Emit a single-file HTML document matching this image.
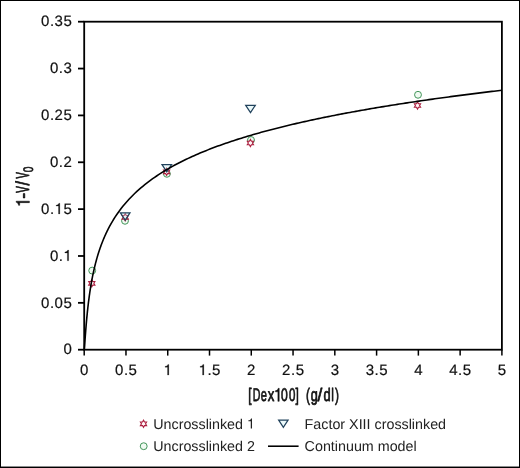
<!DOCTYPE html>
<html><head><meta charset="utf-8"><style>
html,body{margin:0;padding:0;background:#fff;}
svg{display:block;will-change:transform;}
text{font-family:"Liberation Sans",sans-serif;fill:#111;text-rendering:geometricPrecision;}
.tl{font-size:15.0px;stroke:#111;stroke-width:0.2px;}
.at{font-size:18.7px;stroke:#111;stroke-width:0.85px;stroke-linejoin:round;}
.at3{font-size:13.8px;stroke:#111;stroke-width:0.6px;stroke-linejoin:round;}
.at2{font-size:18.3px;stroke:#111;stroke-width:0.75px;stroke-linejoin:round;}
.lg{font-size:14.3px;fill:#222;}
</style></head><body>
<svg width="520" height="468" viewBox="0 0 520 468">
<rect x="0.5" y="0.5" width="519" height="467" fill="#fff" stroke="#000" stroke-width="1"/>
<rect x="0" y="466.55" width="520" height="0.5" fill="#000"/>
<rect x="84.2" y="21.7" width="417.70" height="328.00" fill="none" stroke="#000" stroke-width="1.8"/>
<line x1="78" y1="349.70" x2="84.2" y2="349.70" stroke="#000" stroke-width="1.8"/>
<line x1="78" y1="302.84" x2="84.2" y2="302.84" stroke="#000" stroke-width="1.8"/>
<line x1="78" y1="255.99" x2="84.2" y2="255.99" stroke="#000" stroke-width="1.8"/>
<line x1="78" y1="209.13" x2="84.2" y2="209.13" stroke="#000" stroke-width="1.8"/>
<line x1="78" y1="162.27" x2="84.2" y2="162.27" stroke="#000" stroke-width="1.8"/>
<line x1="78" y1="115.41" x2="84.2" y2="115.41" stroke="#000" stroke-width="1.8"/>
<line x1="78" y1="68.56" x2="84.2" y2="68.56" stroke="#000" stroke-width="1.8"/>
<line x1="78" y1="21.70" x2="84.2" y2="21.70" stroke="#000" stroke-width="1.8"/>
<line x1="84.20" y1="349.7" x2="84.20" y2="355.6" stroke="#000" stroke-width="1.5"/>
<line x1="125.97" y1="349.7" x2="125.97" y2="355.6" stroke="#000" stroke-width="1.5"/>
<line x1="167.74" y1="349.7" x2="167.74" y2="355.6" stroke="#000" stroke-width="1.5"/>
<line x1="209.51" y1="349.7" x2="209.51" y2="355.6" stroke="#000" stroke-width="1.5"/>
<line x1="251.28" y1="349.7" x2="251.28" y2="355.6" stroke="#000" stroke-width="1.5"/>
<line x1="293.05" y1="349.7" x2="293.05" y2="355.6" stroke="#000" stroke-width="1.5"/>
<line x1="334.82" y1="349.7" x2="334.82" y2="355.6" stroke="#000" stroke-width="1.5"/>
<line x1="376.59" y1="349.7" x2="376.59" y2="355.6" stroke="#000" stroke-width="1.5"/>
<line x1="418.36" y1="349.7" x2="418.36" y2="355.6" stroke="#000" stroke-width="1.5"/>
<line x1="460.13" y1="349.7" x2="460.13" y2="355.6" stroke="#000" stroke-width="1.5"/>
<line x1="501.90" y1="349.7" x2="501.90" y2="355.6" stroke="#000" stroke-width="1.5"/>
<text class="tl" x="63.39" y="354.46">0</text>
<text class="tl" x="41.04" y="307.60">0</text>
<text class="tl" x="49.88" y="307.60">.</text>
<text class="tl" x="54.55" y="307.60">0</text>
<text class="tl" x="63.39" y="307.60">5</text>
<text class="tl" x="49.88" y="260.75">0</text>
<text class="tl" x="58.72" y="260.75">.</text>
<path d="M0.352 0 L0.352 -0.709 L0.287 -0.709 C0.268 -0.640 0.215 -0.588 0.100 -0.580 L0.100 -0.520 L0.264 -0.520 L0.264 0 Z" transform="translate(63.39,260.75) scale(15.000,15.000)" fill="#111" stroke="#111" stroke-width="0.2" vector-effect="non-scaling-stroke"/>
<text class="tl" x="41.04" y="213.89">0</text>
<text class="tl" x="49.88" y="213.89">.</text>
<path d="M0.352 0 L0.352 -0.709 L0.287 -0.709 C0.268 -0.640 0.215 -0.588 0.100 -0.580 L0.100 -0.520 L0.264 -0.520 L0.264 0 Z" transform="translate(54.55,213.89) scale(15.000,15.000)" fill="#111" stroke="#111" stroke-width="0.2" vector-effect="non-scaling-stroke"/>
<text class="tl" x="63.39" y="213.89">5</text>
<text class="tl" x="49.88" y="167.03">0</text>
<text class="tl" x="58.72" y="167.03">.</text>
<text class="tl" x="63.39" y="167.03">2</text>
<text class="tl" x="41.04" y="120.17">0</text>
<text class="tl" x="49.88" y="120.17">.</text>
<text class="tl" x="54.55" y="120.17">2</text>
<text class="tl" x="63.39" y="120.17">5</text>
<text class="tl" x="49.88" y="73.32">0</text>
<text class="tl" x="58.72" y="73.32">.</text>
<text class="tl" x="63.39" y="73.32">3</text>
<text class="tl" x="41.04" y="26.46">0</text>
<text class="tl" x="49.88" y="26.46">.</text>
<text class="tl" x="54.55" y="26.46">3</text>
<text class="tl" x="63.39" y="26.46">5</text>
<text class="tl" x="80.03" y="375.06">0</text>
<text class="tl" x="115.04" y="375.06">0</text>
<text class="tl" x="123.89" y="375.06">.</text>
<text class="tl" x="128.55" y="375.06">5</text>
<path d="M0.352 0 L0.352 -0.709 L0.287 -0.709 C0.268 -0.640 0.215 -0.588 0.100 -0.580 L0.100 -0.520 L0.264 -0.520 L0.264 0 Z" transform="translate(163.57,375.06) scale(15.000,15.000)" fill="#111" stroke="#111" stroke-width="0.2" vector-effect="non-scaling-stroke"/>
<path d="M0.352 0 L0.352 -0.709 L0.287 -0.709 C0.268 -0.640 0.215 -0.588 0.100 -0.580 L0.100 -0.520 L0.264 -0.520 L0.264 0 Z" transform="translate(198.58,375.06) scale(15.000,15.000)" fill="#111" stroke="#111" stroke-width="0.2" vector-effect="non-scaling-stroke"/>
<text class="tl" x="207.43" y="375.06">.</text>
<text class="tl" x="212.09" y="375.06">5</text>
<text class="tl" x="247.11" y="375.06">2</text>
<text class="tl" x="282.12" y="375.06">2</text>
<text class="tl" x="290.97" y="375.06">.</text>
<text class="tl" x="295.63" y="375.06">5</text>
<text class="tl" x="330.65" y="375.06">3</text>
<text class="tl" x="365.66" y="375.06">3</text>
<text class="tl" x="374.51" y="375.06">.</text>
<text class="tl" x="379.17" y="375.06">5</text>
<text class="tl" x="414.19" y="375.06">4</text>
<text class="tl" x="449.20" y="375.06">4</text>
<text class="tl" x="458.05" y="375.06">.</text>
<text class="tl" x="462.71" y="375.06">5</text>
<text class="tl" x="497.73" y="375.06">5</text>
<circle cx="92.20" cy="270.60" r="3.45" fill="#f0faf2" stroke="#43965a" stroke-width="1.0"/>
<circle cx="125.00" cy="220.80" r="3.45" fill="#f0faf2" stroke="#43965a" stroke-width="1.0"/>
<circle cx="166.90" cy="173.80" r="3.45" fill="#f0faf2" stroke="#43965a" stroke-width="1.0"/>
<circle cx="251.00" cy="140.00" r="3.45" fill="#f0faf2" stroke="#43965a" stroke-width="1.0"/>
<circle cx="418.00" cy="94.80" r="3.45" fill="#f0faf2" stroke="#43965a" stroke-width="1.0"/>
<polygon points="91.80,279.75 90.78,281.53 88.73,281.53 89.75,283.30 88.73,285.07 90.78,285.07 91.80,286.85 92.82,285.07 94.87,285.07 93.85,283.30 94.87,281.53 92.82,281.53" fill="#fff4f6" stroke="#ab1e3e" stroke-width="1.15"/>
<polygon points="125.20,213.75 124.18,215.53 122.13,215.53 123.15,217.30 122.13,219.08 124.18,219.08 125.20,220.85 126.22,219.08 128.27,219.08 127.25,217.30 128.27,215.53 126.22,215.53" fill="#fff4f6" stroke="#ab1e3e" stroke-width="1.15"/>
<polygon points="166.60,168.25 165.58,170.03 163.53,170.03 164.55,171.80 163.53,173.58 165.58,173.58 166.60,175.35 167.62,173.58 169.67,173.58 168.65,171.80 169.67,170.03 167.62,170.03" fill="#fff4f6" stroke="#ab1e3e" stroke-width="1.15"/>
<polygon points="250.40,139.45 249.38,141.22 247.33,141.22 248.35,143.00 247.33,144.78 249.38,144.78 250.40,146.55 251.42,144.78 253.47,144.78 252.45,143.00 253.47,141.22 251.42,141.22" fill="#fff4f6" stroke="#ab1e3e" stroke-width="1.15"/>
<polygon points="417.50,101.95 416.48,103.72 414.43,103.72 415.45,105.50 414.43,107.28 416.48,107.28 417.50,109.05 418.52,107.28 420.57,107.28 419.55,105.50 420.57,103.72 418.52,103.72" fill="#fff4f6" stroke="#ab1e3e" stroke-width="1.15"/>
<polygon points="120.40,212.80 130.00,212.80 125.20,220.20" fill="#bfeef2" fill-opacity="0.3" stroke="#21425c" stroke-width="1.25"/>
<polygon points="162.00,164.50 171.60,164.50 166.80,171.90" fill="#bfeef2" fill-opacity="0.3" stroke="#21425c" stroke-width="1.25"/>
<polygon points="245.70,105.30 255.30,105.30 250.50,112.70" fill="#bfeef2" fill-opacity="0.3" stroke="#21425c" stroke-width="1.25"/>
<polyline points="84.20,349.70 84.24,349.44 84.29,349.08 84.33,348.66 84.37,348.21 84.41,347.73 84.46,347.23 84.50,346.71 84.54,346.18 84.59,345.63 84.63,345.08 84.67,344.52 84.71,343.95 84.76,343.38 84.80,342.80 84.84,342.22 84.89,341.64 84.93,341.06 84.97,340.48 85.01,339.89 85.06,339.31 85.10,338.73 85.14,338.15 85.19,337.57 85.23,336.99 85.27,336.41 85.31,335.84 85.36,335.26 85.40,334.69 85.44,334.13 85.49,333.56 85.53,333.00 85.57,332.44 85.61,331.89 85.66,331.34 85.70,330.79 85.74,330.25 85.79,329.70 85.83,329.17 85.87,328.63 85.87,328.63 86.07,326.23 86.26,323.90 86.46,321.64 86.66,319.46 86.85,317.35 87.05,315.31 87.25,313.34 87.44,311.43 87.64,309.58 87.84,307.78 88.03,306.04 88.23,304.36 88.43,302.72 88.62,301.13 88.82,299.58 89.02,298.08 89.21,296.61 89.41,295.19 89.61,293.80 89.80,292.44 90.00,291.12 90.20,289.83 90.39,288.58 90.59,287.35 90.78,286.15 90.98,284.97 91.18,283.82 91.37,282.70 91.57,281.60 91.77,280.52 91.96,279.47 92.16,278.43 92.36,277.42 92.55,276.42 92.75,275.45 92.95,274.49 93.14,273.55 93.34,272.63 93.54,271.72 93.73,270.83 93.93,269.95 94.13,269.09 94.32,268.24 94.52,267.41 94.72,266.59 94.91,265.78 95.11,264.99 95.31,264.20 95.50,263.43 95.70,262.67 95.90,261.93 96.09,261.19 96.29,260.46 96.49,259.75 96.68,259.04 96.88,258.35 97.07,257.66 97.27,256.98 97.47,256.31 97.66,255.65 97.86,255.00 98.06,254.36 98.25,253.72 98.45,253.09 98.65,252.48 98.84,251.86 99.04,251.26 99.24,250.66 99.43,250.07 99.63,249.49 99.83,248.91 100.02,248.34 100.22,247.78 100.42,247.22 100.61,246.67 100.81,246.12 101.01,245.58 101.20,245.05 101.40,244.52 101.60,244.00 101.79,243.48 101.99,242.97 102.19,242.46 102.38,241.96 102.58,241.46 102.78,240.97 102.97,240.48 103.17,240.00 103.37,239.52 103.56,239.05 103.76,238.58 103.95,238.11 104.15,237.65 104.35,237.20 104.54,236.75 104.74,236.30 104.94,235.85 105.13,235.41 105.33,234.98 105.53,234.55 105.72,234.12 105.92,233.69 106.12,233.27 106.31,232.85 106.51,232.44 106.71,232.03 106.90,231.62 107.10,231.22 107.30,230.81 107.49,230.42 107.69,230.02 107.89,229.63 108.08,229.24 108.28,228.86 108.48,228.47 108.67,228.09 108.87,227.72 109.07,227.34 109.26,226.97 111.24,223.39 113.21,220.05 115.18,216.92 117.15,213.98 119.13,211.20 121.10,208.57 123.07,206.07 125.05,203.70 127.02,201.43 128.99,199.26 130.97,197.18 132.94,195.19 134.91,193.27 136.88,191.42 138.86,189.65 140.83,187.93 142.80,186.27 144.78,184.66 146.75,183.11 148.72,181.60 150.70,180.14 152.67,178.72 154.64,177.34 156.62,176.00 158.59,174.69 160.56,173.41 162.53,172.17 164.51,170.96 166.48,169.78 168.45,168.63 170.43,167.50 172.40,166.40 174.37,165.32 176.35,164.26 178.32,163.23 180.29,162.22 182.27,161.22 184.24,160.25 186.21,159.30 188.18,158.36 190.16,157.45 192.13,156.55 194.10,155.66 196.08,154.79 198.05,153.94 200.02,153.10 202.00,152.27 203.97,151.46 205.94,150.66 207.91,149.88 209.89,149.10 211.86,148.34 213.83,147.59 215.81,146.85 217.78,146.12 219.75,145.41 221.73,144.70 223.70,144.00 225.67,143.32 227.65,142.64 229.62,141.97 231.59,141.31 233.56,140.66 235.54,140.02 237.51,139.38 239.48,138.76 241.46,138.14 243.43,137.53 245.40,136.93 247.38,136.33 249.35,135.74 251.32,135.16 253.30,134.59 255.27,134.02 257.24,133.46 259.21,132.90 261.19,132.35 263.16,131.81 265.13,131.27 267.11,130.74 269.08,130.21 271.05,129.69 273.03,129.18 275.00,128.67 276.97,128.17 278.94,127.67 280.92,127.17 282.89,126.68 284.86,126.20 286.84,125.72 288.81,125.24 290.78,124.77 292.76,124.31 294.73,123.85 296.70,123.39 298.68,122.94 300.65,122.49 302.62,122.04 304.59,121.60 306.57,121.16 308.54,120.73 310.51,120.30 312.49,119.88 314.46,119.45 316.43,119.04 318.41,118.62 320.38,118.21 322.35,117.80 324.33,117.40 326.30,117.00 328.27,116.60 330.24,116.20 332.22,115.81 334.19,115.42 336.16,115.04 338.14,114.65 340.11,114.28 342.08,113.90 344.06,113.52 346.03,113.15 348.00,112.79 349.97,112.42 351.95,112.06 353.92,111.70 355.89,111.34 357.87,110.98 359.84,110.63 361.81,110.28 363.79,109.93 365.76,109.59 367.73,109.25 369.71,108.91 371.68,108.57 373.65,108.23 375.62,107.90 377.60,107.57 379.57,107.24 381.54,106.91 383.52,106.59 385.49,106.27 387.46,105.95 389.44,105.63 391.41,105.31 393.38,105.00 395.36,104.69 397.33,104.37 399.30,104.07 401.27,103.76 403.25,103.46 405.22,103.15 407.19,102.85 409.17,102.55 411.14,102.26 413.11,101.96 415.09,101.67 417.06,101.38 419.03,101.09 421.00,100.80 422.98,100.51 424.95,100.23 426.92,99.94 428.90,99.66 430.87,99.38 432.84,99.10 434.82,98.83 436.79,98.55 438.76,98.28 440.74,98.00 442.71,97.73 444.68,97.46 446.65,97.20 448.63,96.93 450.60,96.66 452.57,96.40 454.55,96.14 456.52,95.88 458.49,95.62 460.47,95.36 462.44,95.10 464.41,94.85 466.39,94.59 468.36,94.34 470.33,94.09 472.30,93.84 474.28,93.59 476.25,93.34 478.22,93.10 480.20,92.85 482.17,92.61 484.14,92.36 486.12,92.12 488.09,91.88 490.06,91.64 492.03,91.40 494.01,91.17 495.98,90.93 497.95,90.70 499.93,90.46 501.90,90.23" fill="none" stroke="#000" stroke-width="1.6" stroke-linejoin="round"/>
<path d="M0.352 0 L0.352 -0.709 L0.287 -0.709 C0.268 -0.640 0.215 -0.588 0.100 -0.580 L0.100 -0.520 L0.264 -0.520 L0.264 0 Z" transform="translate(29.40,206.93) rotate(-90) scale(16.270,18.700)" fill="#111" stroke="#111" stroke-width="0.5" vector-effect="non-scaling-stroke"/>
<text class="at" transform="translate(29.40,198.55) rotate(-90) scale(0.898,1)">-</text>
<text class="at" transform="translate(29.40,192.74) rotate(-90) scale(0.528,1)">V</text>
<text class="at" transform="translate(29.40,185.40) rotate(-90) scale(0.847,1)">/</text>
<text class="at" transform="translate(29.40,178.54) rotate(-90) scale(0.504,1)">V</text>
<text class="at3" transform="translate(33.45,172.20) rotate(-90) scale(0.743,1)">0</text>
<text class="at2" transform="translate(248.22,401.30) scale(0.650,1)">[</text>
<text class="at2" transform="translate(252.73,401.30) scale(0.581,1)">D</text>
<text class="at2" transform="translate(260.83,401.30) scale(0.606,1)">e</text>
<text class="at2" transform="translate(267.65,401.30) scale(0.720,1)">x</text>
<path d="M0.352 0 L0.352 -0.709 L0.287 -0.709 C0.268 -0.640 0.215 -0.588 0.100 -0.580 L0.100 -0.520 L0.264 -0.520 L0.264 0 Z" transform="translate(274.03,401.30) scale(14.683,18.300)" fill="#111" stroke="#111" stroke-width="0.5" vector-effect="non-scaling-stroke"/>
<text class="at2" transform="translate(280.93,401.30) scale(0.663,1)">0</text>
<text class="at2" transform="translate(288.95,401.30) scale(0.629,1)">0</text>
<text class="at2" transform="translate(295.58,401.30) scale(0.650,1)">]</text>
<text class="at2" transform="translate(305.94,401.30) scale(0.650,1)">(</text>
<text class="at2" transform="translate(310.67,401.30) scale(0.693,1)">g</text>
<text class="at2" transform="translate(317.40,401.30) scale(0.944,1)">/</text>
<text class="at2" transform="translate(323.56,401.30) scale(0.705,1)">d</text>
<text class="at2" transform="translate(331.23,401.30) scale(0.650,1)">l</text>
<text class="at2" transform="translate(335.00,401.30) scale(0.650,1)">)</text>
<polygon points="143.50,420.25 142.48,422.03 140.43,422.03 141.45,423.80 140.43,425.57 142.48,425.57 143.50,427.35 144.52,425.57 146.57,425.57 145.55,423.80 146.57,422.03 144.52,422.03" fill="#fff4f6" stroke="#ab1e3e" stroke-width="1.15"/>
<circle cx="143.70" cy="446.20" r="3.45" fill="#f0faf2" stroke="#43965a" stroke-width="1.0"/>
<polygon points="278.65,420.05 288.05,420.05 283.35,427.35" fill="#bfeef2" fill-opacity="0.3" stroke="#21425c" stroke-width="1.25"/>
<line x1="268" y1="446.2" x2="298.6" y2="446.2" stroke="#000" stroke-width="1.55"/>
<text class="lg" x="153.20" y="428.60">U</text>
<text class="lg" x="163.53" y="428.60">n</text>
<text class="lg" x="171.48" y="428.60">c</text>
<text class="lg" x="178.63" y="428.60">r</text>
<text class="lg" x="183.39" y="428.60">o</text>
<text class="lg" x="191.34" y="428.60">s</text>
<text class="lg" x="198.49" y="428.60">s</text>
<text class="lg" x="205.64" y="428.60">l</text>
<text class="lg" x="208.82" y="428.60">i</text>
<text class="lg" x="212.00" y="428.60">n</text>
<text class="lg" x="219.95" y="428.60">k</text>
<text class="lg" x="227.10" y="428.60">e</text>
<text class="lg" x="235.05" y="428.60">d</text>
<path d="M0.352 0 L0.352 -0.709 L0.287 -0.709 C0.268 -0.640 0.215 -0.588 0.100 -0.580 L0.100 -0.520 L0.264 -0.520 L0.264 0 Z" transform="translate(246.98,428.60) scale(14.300,14.300)" fill="#222"/>
<text class="lg" x="153.20" y="451.10">U</text>
<text class="lg" x="163.53" y="451.10">n</text>
<text class="lg" x="171.48" y="451.10">c</text>
<text class="lg" x="178.63" y="451.10">r</text>
<text class="lg" x="183.39" y="451.10">o</text>
<text class="lg" x="191.34" y="451.10">s</text>
<text class="lg" x="198.49" y="451.10">s</text>
<text class="lg" x="205.64" y="451.10">l</text>
<text class="lg" x="208.82" y="451.10">i</text>
<text class="lg" x="212.00" y="451.10">n</text>
<text class="lg" x="219.95" y="451.10">k</text>
<text class="lg" x="227.10" y="451.10">e</text>
<text class="lg" x="235.05" y="451.10">d</text>
<text class="lg" x="246.98" y="451.10">2</text>
<text class="lg" x="304.60" y="428.60">F</text>
<text class="lg" x="313.34" y="428.60">a</text>
<text class="lg" x="321.29" y="428.60">c</text>
<text class="lg" x="328.44" y="428.60">t</text>
<text class="lg" x="332.41" y="428.60">o</text>
<text class="lg" x="340.36" y="428.60">r</text>
<text class="lg" x="349.10" y="428.60">X</text>
<text class="lg" x="358.64" y="428.60">I</text>
<text class="lg" x="362.61" y="428.60">I</text>
<text class="lg" x="366.58" y="428.60">I</text>
<text class="lg" x="374.53" y="428.60">c</text>
<text class="lg" x="381.68" y="428.60">r</text>
<text class="lg" x="386.44" y="428.60">o</text>
<text class="lg" x="394.39" y="428.60">s</text>
<text class="lg" x="401.54" y="428.60">s</text>
<text class="lg" x="408.69" y="428.60">l</text>
<text class="lg" x="411.87" y="428.60">i</text>
<text class="lg" x="415.05" y="428.60">n</text>
<text class="lg" x="423.00" y="428.60">k</text>
<text class="lg" x="430.15" y="428.60">e</text>
<text class="lg" x="438.10" y="428.60">d</text>
<text class="lg" x="304.60" y="451.10">C</text>
<text class="lg" x="314.93" y="451.10">o</text>
<text class="lg" x="322.88" y="451.10">n</text>
<text class="lg" x="330.83" y="451.10">t</text>
<text class="lg" x="334.81" y="451.10">i</text>
<text class="lg" x="337.98" y="451.10">n</text>
<text class="lg" x="345.94" y="451.10">u</text>
<text class="lg" x="353.89" y="451.10">u</text>
<text class="lg" x="361.84" y="451.10">m</text>
<text class="lg" x="377.73" y="451.10">m</text>
<text class="lg" x="389.64" y="451.10">o</text>
<text class="lg" x="397.59" y="451.10">d</text>
<text class="lg" x="405.54" y="451.10">e</text>
<text class="lg" x="413.50" y="451.10">l</text>
</svg>
</body></html>
